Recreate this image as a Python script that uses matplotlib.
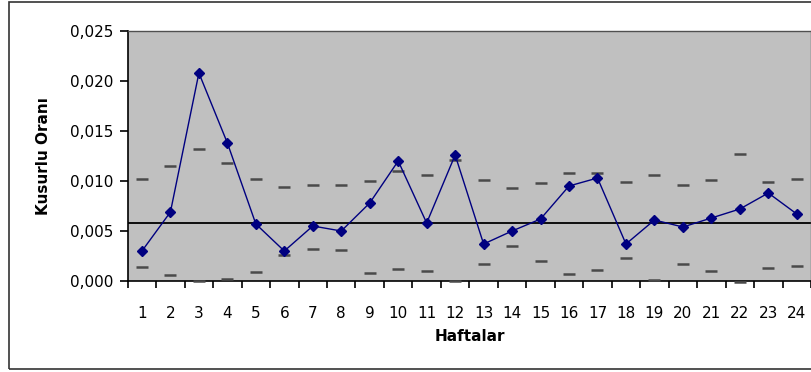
import numpy as np
import matplotlib.pyplot as plt
from matplotlib.patches import Rectangle

plt.rcParams['font.family'] = ['DejaVu Sans']

weeks = list(range(1, 25))
defect_rate = [0.0030, 0.0069, 0.0208, 0.0138, 0.0057, 0.0030, 0.0055, 0.0050,
               0.0078, 0.0120, 0.0058, 0.0126, 0.0037, 0.0050, 0.0062, 0.0095,
               0.0103, 0.0037, 0.0061, 0.0054, 0.0063, 0.0072, 0.0088, 0.0067]
ucl = [0.0102, 0.0115, 0.0132, 0.0118, 0.0102, 0.0094, 0.0096, 0.0096,
       0.0100, 0.0110, 0.0106, 0.0121, 0.0101, 0.0093, 0.0098, 0.0108,
       0.0108, 0.0099, 0.0106, 0.0096, 0.0101, 0.0127, 0.0099, 0.0102]
lcl = [0.0014, 0.0006, 0.0000, 0.0002, 0.0009, 0.0026, 0.0032, 0.0031,
       0.0008, 0.0012, 0.0010, 0.0000, 0.0017, 0.0035, 0.0020, 0.0007,
       0.0011, 0.0023, 0.0001, 0.0017, 0.0010, -0.0001, 0.0013, 0.0015]
center = 0.0058
yticks = [0.000, 0.005, 0.010, 0.015, 0.020, 0.025]
ytick_labels = ['0,000', '0,005', '0,010', '0,015', '0,020', '0,025']

fig = plt.figure(figsize=(8.12, 3.72), dpi=100)
ax = fig.add_axes([0.1573, 0.2446, 0.8415, 0.6721])
ax.set_facecolor('#c0c0c0')

# outer chart frame
fig.patches.append(Rectangle((9.5 / 812, 3 / 372), 0.995, 367.5 / 372,
                             transform=fig.transFigure, fill=False,
                             edgecolor='#333333', linewidth=1.2))

ax.axhline(center, color='black', linewidth=1.3, zorder=2)
ax.plot(weeks, ucl, linestyle='none', marker='_', markersize=9,
        markeredgewidth=1.8, color='#4a4a4a', zorder=3, clip_on=False)
ax.plot(weeks, lcl, linestyle='none', marker='_', markersize=9,
        markeredgewidth=1.8, color='#4a4a4a', zorder=3, clip_on=False)
ax.plot(weeks, defect_rate, color='#000080', linewidth=1, marker='D',
        markersize=5, zorder=4)

ax.set_xlim(0.5, 24.5)
ax.set_ylim(0, 0.025)
ax.set_xticks(weeks)
ax.set_xticklabels([str(w) for w in weeks], fontsize=11)
ax.set_xticks(np.arange(0.5, 25, 1), minor=True)
ax.tick_params(axis='x', which='major', length=0, pad=18)
ax.tick_params(axis='x', which='minor', length=5, width=1.2)
ax.set_yticks(yticks)
ax.set_yticklabels(ytick_labels, fontsize=11)
ax.tick_params(axis='y', length=6, width=1.2, pad=4)

for side in ['left', 'bottom']:
    ax.spines[side].set_color('black')
    ax.spines[side].set_linewidth(1.2)
for side in ['top', 'right']:
    ax.spines[side].set_color('#505050')
    ax.spines[side].set_linewidth(1)

ax.set_xlabel('Haftalar', fontsize=11, fontweight='bold', labelpad=6)
ax.set_ylabel('Kusurlu Oranı', fontsize=11, fontweight='bold', labelpad=14)

fig.savefig('out.png', dpi=100)
